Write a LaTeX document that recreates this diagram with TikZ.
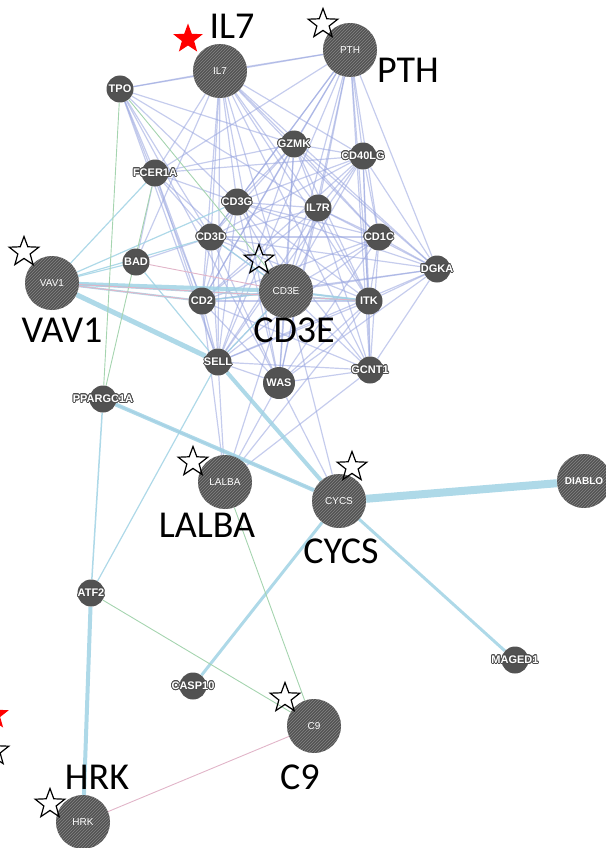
\documentclass[tikz,border=0pt]{standalone}
\usepackage{fontspec}
\setmainfont{Carlito}
\newfontfamily\genefont{Liberation Sans}
\usepackage[copies]{contour}
\contourlength{0.8pt}
\usetikzlibrary{shapes.geometric,patterns,backgrounds}

\definecolor{nodegray}{RGB}{82,82,82}
\definecolor{lavblue}{RGB}{150,163,222}
\definecolor{tealblue}{RGB}{160,210,228}
\definecolor{edgegreen}{RGB}{165,212,175}
\definecolor{edgepink}{RGB}{225,180,200}

\newcommand{\gname}[1]{\makebox[0pt]{\contour{black!70}{#1}}}
\newcommand{\bname}[1]{\makebox[0pt]{#1}}

\tikzset{big gene/.style={circle,minimum size=54pt,inner sep=0pt,fill=nodegray,
    postaction={pattern=north east lines,pattern color=nodegray!70!white},
    text=white,font=\genefont\fontsize{10}{10}\selectfont},
  small gene/.style={circle,minimum size=27pt,inner sep=0pt,fill=nodegray,
    text=white,font=\genefont\bfseries\fontsize{11}{11}\selectfont},
  gene label/.style={inner sep=0pt,font=\fontsize{38}{38}\selectfont},
  lav edge/.style={draw=lavblue,line width=1.2pt,opacity=0.55},
  teal edge/.style={draw=tealblue,line width=1.2pt,opacity=0.85},
  green edge/.style={draw=edgegreen,line width=0.9pt},
  pink edge/.style={draw=edgepink,line width=0.9pt},
  hollow star/.style={star,star points=5,star point ratio=2.4,minimum size=31pt,
    inner sep=0pt,draw=black,line width=1.2pt},
  red star/.style={star,star points=5,star point ratio=2.4,minimum size=31pt,
    inner sep=0pt,fill=red}}

\begin{document}
\begin{tikzpicture}[x=1pt,y=-1pt]
\useasboundingbox (0,0) rectangle (605,848);

% large genes
\node[big gene] (il7) at (220,71) {\bname{IL7}};
\node[big gene] (pth) at (350,50) {\bname{PTH}};
\node[big gene] (vav1) at (52,283) {\bname{VAV1}};
\node[big gene] (cd3e) at (286,291) {\bname{CD3E}};
\node[big gene] (lalba) at (225,482) {\bname{LALBA}};
\node[big gene] (cycs) at (339,501) {\bname{CYCS}};
\node[big gene,font=\genefont\bfseries\fontsize{10}{10}\selectfont] (diablo) at (584,481) {\bname{DIABLO}};
\node[big gene] (c9) at (314,726) {\bname{C9}};
\node[big gene] (hrk) at (83,822) {\bname{HRK}};

% small genes
\node[small gene] (tpo) at (120,89) {\gname{TPO}};
\node[small gene] (fcer1a) at (155,173) {\gname{FCER1A}};
\node[small gene] (gzmk) at (294,144) {\gname{GZMK}};
\node[small gene] (cd40lg) at (363,156) {\gname{CD40LG}};
\node[small gene] (cd3g) at (237,202) {\gname{CD3G}};
\node[small gene] (il7r) at (318,208) {\gname{IL7R}};
\node[small gene] (cd3d) at (211,237) {\gname{CD3D}};
\node[small gene] (cd1c) at (379,237) {\gname{CD1C}};
\node[small gene] (dgka) at (437,269) {\gname{DGKA}};
\node[small gene] (bad) at (136,262) {\gname{BAD}};
\node[small gene] (cd2) at (202,301) {\gname{CD2}};
\node[small gene] (itk) at (369,301) {\gname{ITK}};
\node[small gene] (sell) at (218,362) {\gname{SELL}};
\node[small gene,minimum size=32pt] (was) at (279,383) {\gname{WAS}};
\node[small gene] (gcnt1) at (370,370) {\gname{GCNT1}};
\node[small gene] (ppargc1a) at (103,399) {\gname{PPARGC1A}};
\node[small gene] (atf2) at (91,593) {\gname{ATF2}};
\node[small gene] (casp10) at (193,686) {\gname{CASP10}};
\node[small gene] (maged1) at (515,660) {\gname{MAGED1}};

\begin{scope}[on background layer]
  \foreach \src/\dsts in {il7/{tpo,pth,gzmk,cd40lg,cd3g,il7r,cd3d,cd1c,cd2,cd3e,itk,sell,was,gcnt1,dgka,fcer1a,bad},
      pth/{tpo,gzmk,cd40lg,cd3g,il7r,cd3d,cd1c,dgka,cd3e,itk,gcnt1,was,sell,fcer1a,cd2},
      tpo/{fcer1a,cd3g,cd3d,sell,was,gzmk,il7r,cd2},
      gzmk/{cd40lg,cd3g,il7r,cd3d,cd1c,cd3e,itk,dgka,cd2,sell,was,fcer1a},
      cd40lg/{cd3g,il7r,cd3d,cd1c,dgka,cd3e,itk,gcnt1,cd2,sell,fcer1a},
      cd3g/{il7r,cd3d,cd1c,cd3e,itk,cd2,sell,was,dgka,fcer1a,gcnt1},
      il7r/{cd3d,cd1c,dgka,cd3e,itk,cd2,sell,was,gcnt1},
      cd3d/{cd1c,cd3e,cd2,itk,sell,was,dgka,bad,fcer1a},
      cd1c/{dgka,cd3e,itk,gcnt1,cd2,sell,was},
      dgka/{cd3e,itk,gcnt1,cd2,sell,was},
      cd3e/{cd2,itk,sell,was,gcnt1,fcer1a,lalba,cycs},
      cd2/{itk,sell,was,gcnt1,lalba},
      itk/{sell,was,gcnt1,lalba},
      sell/{was,lalba,gcnt1},
      was/{lalba,gcnt1,cycs},
      gcnt1/{lalba},
      fcer1a/{cd2,sell,bad},
      ppargc1a/{cycs}}
    \foreach \dst in \dsts
      \draw[lav edge] (\src) -- (\dst);

  % co-expression / pathway links
  \draw[teal edge,line width=4pt] (vav1) -- (cd3e);
  \draw[teal edge,line width=5pt] (vav1) -- (sell);
  \draw[teal edge,line width=2pt] (vav1) -- (cd2);
  \draw[teal edge,line width=2pt] (vav1) -- (itk);
  \draw[teal edge] (vav1) -- (bad);
  \draw[teal edge] (vav1) -- (cd3d);
  \draw[teal edge] (vav1) -- (cd3g);
  \draw[teal edge] (vav1) -- (fcer1a);
  \draw[teal edge,line width=2pt] (cd3e) -- (itk);
  \draw[teal edge] (cd3d) -- (cd3e);
  \draw[teal edge] (cd2) -- (cd3e);
  \draw[teal edge] (sell) -- (cd3e);
  \draw[teal edge] (bad) -- (sell);
  \draw[teal edge,line width=4pt] (sell) -- (cycs);
  \draw[teal edge,line width=4pt] (ppargc1a) -- (cycs);
  \draw[teal edge,line width=1.5pt] (ppargc1a) -- (atf2);
  \draw[teal edge] (atf2) -- (sell);
  \draw[teal edge,line width=4pt] (atf2) -- (hrk);
  \draw[teal edge,line width=8pt] (cycs) -- (diablo);
  \draw[teal edge,line width=3pt] (cycs) -- (maged1);
  \draw[teal edge,line width=3pt] (casp10) -- (cycs);

  \draw[green edge] (tpo) -- (ppargc1a);
  \draw[green edge] (fcer1a) -- (ppargc1a);
  \draw[green edge] (tpo) -- (cd3e);
  \draw[green edge] (atf2) -- (c9);
  \draw[green edge] (lalba) -- (c9);

  \draw[pink edge] (hrk) -- (c9);
  \draw[pink edge] (vav1) -- (cd2);
  \draw[pink edge] (vav1) -- (itk);
  \draw[pink edge] (bad) -- (cd3e);
\end{scope}

% gene labels
\node[gene label] (lbl-il7) at (232,26) {IL7};
\node[gene label] (lbl-pth) at (408,70) {PTH};
\node[gene label] (lbl-vav1) at (62,330) {VAV1};
\node[gene label] (lbl-cd3e) at (294,330) {CD3E};
\node[gene label] (lbl-lalba) at (207,525) {LALBA};
\node[gene label] (lbl-cycs) at (341,551) {CYCS};
\node[gene label] (lbl-hrk) at (97,777) {HRK};
\node[gene label] (lbl-c9) at (300,777) {C9};

% stars
\node[red star] (st-il7) at (188,39) {};
\node[hollow star] (st-pth) at (323,24) {};
\node[hollow star] (st-vav1) at (24,252) {};
\node[hollow star] (st-cd3e) at (259,260) {};
\node[hollow star] (st-lalba) at (193,462) {};
\node[hollow star] (st-cycs) at (352,467) {};
\node[hollow star] (st-c9) at (285,698) {};
\node[hollow star] (st-hrk) at (50,804) {};
\node[red star] (st-key1) at (-6,715) {};
\node[hollow star] (st-key2) at (-6,751) {};
\end{tikzpicture}
\end{document}
